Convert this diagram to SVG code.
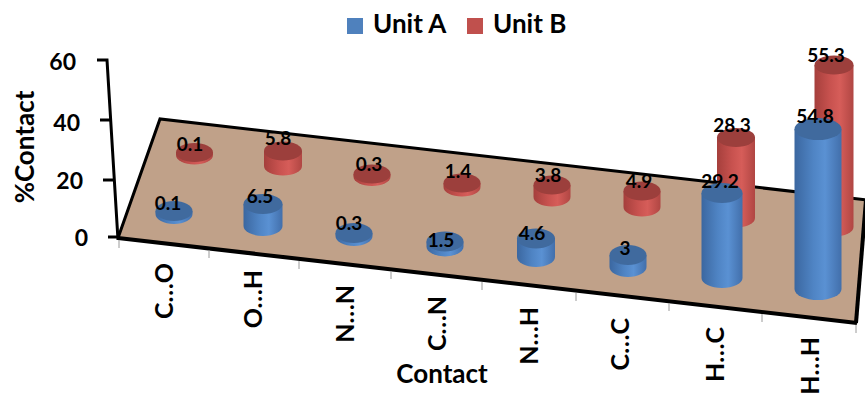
<svg xmlns="http://www.w3.org/2000/svg" width="865" height="394" viewBox="0 0 865 394">
<defs>
<linearGradient id="gb" x1="0" y1="0" x2="1" y2="0">
<stop offset="0" stop-color="#3b67a0"/>
<stop offset="0.4" stop-color="#4f84c4"/>
<stop offset="0.65" stop-color="#5a91d3"/>
<stop offset="1" stop-color="#426fab"/>
</linearGradient>
<linearGradient id="gr" x1="0" y1="0" x2="1" y2="0">
<stop offset="0" stop-color="#a53f3c"/>
<stop offset="0.4" stop-color="#c8524f"/>
<stop offset="0.65" stop-color="#d65d59"/>
<stop offset="1" stop-color="#b04643"/>
</linearGradient>
</defs>
<style>
text{font-family:Lato,"Liberation Sans",sans-serif;font-weight:bold;fill:#000}
.bb{fill:url(#gb)} .bt{fill:#406a9e}
.rb{fill:url(#gr)} .rt{fill:#9c3f3c}
.dl{font-size:19px;text-anchor:middle}
.cat{font-size:25px;text-anchor:end}
.tk{font-size:23px;text-anchor:end}
.ax{stroke:#000;stroke-width:3;fill:none}
.gt{stroke:#9a9a9a;stroke-width:1}
</style>
<rect width="865" height="394" fill="#fff"/>
<g id="floor">
<polygon points="118,238 160,119 868,200 856,323" fill="#c0a189"/>
<polyline points="118,238 160,119 868,200" class="ax"/>
<line x1="118" y1="238" x2="857" y2="323" stroke="#000" stroke-width="4"/>
<line x1="856" y1="323" x2="866" y2="200" stroke="#000" stroke-width="4"/>
<g class="gt">
<line x1="119" y1="240" x2="119" y2="248"/>
<line x1="209" y1="250" x2="209" y2="258"/>
<line x1="299" y1="261" x2="299" y2="269"/>
<line x1="391" y1="271" x2="391" y2="279"/>
<line x1="482" y1="282" x2="482" y2="290"/>
<line x1="576" y1="293" x2="576" y2="301"/>
<line x1="669" y1="303" x2="669" y2="311"/>
<line x1="762" y1="314" x2="762" y2="322"/>
<line x1="856" y1="325" x2="856" y2="333"/>
</g>
</g>
<g id="y-axis">
<polyline points="97,60 107,60 118,240" class="ax"/>
<line x1="100" y1="120" x2="111" y2="120" class="ax"/>
<line x1="103" y1="180" x2="114" y2="180" class="ax"/>
<line x1="108" y1="237" x2="118" y2="237" class="ax"/>
<text class="tk" x="76" y="70">60</text>
<text class="tk" x="80" y="131">40</text>
<text class="tk" x="83" y="189">20</text>
<text class="tk" x="88" y="246">0</text>
<text font-size="26" text-anchor="middle" transform="translate(34,147) rotate(-90)">%Contact</text>
</g>
<g id="legend">
<rect x="347" y="18" width="16" height="16" fill="#4f81bd"/>
<text x="373" y="33" font-size="26">Unit A</text>
<rect x="467" y="18" width="16" height="16" fill="#c0504d"/>
<text x="493" y="33" font-size="26">Unit B</text>
</g>
<g id="unitB">
<g id="b-CO"><path class="rb" d="M176,152.5 V155 A18.5,9.5 0 0 0 213,155 V152.5 Z"/><ellipse class="rt" cx="194.5" cy="152.5" rx="18.5" ry="9.5"/></g>
<g id="b-OH"><path class="rb" d="M264,151 V166 A19,9.5 0 0 0 302,166 V151 Z"/><ellipse class="rt" cx="283" cy="151" rx="19" ry="9.5"/></g>
<g id="b-NN"><path class="rb" d="M353.5,174 V176.5 A18.5,9.5 0 0 0 390.5,176.5 V174 Z"/><ellipse class="rt" cx="372" cy="174" rx="18.5" ry="9.5"/></g>
<g id="b-CN"><path class="rb" d="M443.5,183 V187 A18.5,9.5 0 0 0 480.5,187 V183 Z"/><ellipse class="rt" cx="462" cy="183" rx="18.5" ry="9.5"/></g>
<g id="b-NH"><path class="rb" d="M533.5,185 V197 A18.5,9.5 0 0 0 570.5,197 V185 Z"/><ellipse class="rt" cx="552" cy="185" rx="18.5" ry="9.5"/></g>
<g id="b-CC"><path class="rb" d="M623.5,191 V207 A18.5,9.5 0 0 0 660.5,207 V191 Z"/><ellipse class="rt" cx="642" cy="191" rx="18.5" ry="9.5"/></g>
<g id="b-HC"><path class="rb" d="M717,137.5 V218 A19,9.5 0 0 0 755,218 V137.5 Z"/><ellipse class="rt" cx="736" cy="137.5" rx="19" ry="9.5"/></g>
<g id="b-HH"><path class="rb" d="M814.5,65 V227 A19.5,9.5 0 0 0 853.5,227 V65 Z"/><ellipse class="rt" cx="834" cy="65" rx="19.5" ry="9.5"/></g>
</g>
<g id="unitA">
<g id="a-CO"><path class="bb" d="M155.5,211 V214 A18.5,10 0 0 0 192.5,214 V211 Z"/><ellipse class="bt" cx="174" cy="211" rx="18.5" ry="10"/></g>
<g id="a-OH"><path class="bb" d="M243.5,204 V226 A19.5,10 0 0 0 282.5,226 V204 Z"/><ellipse class="bt" cx="263" cy="204" rx="19.5" ry="10"/></g>
<g id="a-NN"><path class="bb" d="M335.5,233 V236 A18.5,10 0 0 0 372.5,236 V233 Z"/><ellipse class="bt" cx="354" cy="233" rx="18.5" ry="10"/></g>
<g id="a-CN"><path class="bb" d="M426.5,241.5 V246.5 A18.5,10 0 0 0 463.5,246.5 V241.5 Z"/><ellipse class="bt" cx="445" cy="241.5" rx="18.5" ry="10"/></g>
<g id="a-NH"><path class="bb" d="M517,238.5 V257 A19,10 0 0 0 555,257 V238.5 Z"/><ellipse class="bt" cx="536" cy="238.5" rx="19" ry="10"/></g>
<g id="a-CC"><path class="bb" d="M609.5,255 V267 A18.5,10 0 0 0 646.5,267 V255 Z"/><ellipse class="bt" cx="628" cy="255" rx="18.5" ry="10"/></g>
<g id="a-HC"><path class="bb" d="M701.5,193 V278 A20.5,10 0 0 0 742.5,278 V193 Z"/><ellipse class="bt" cx="722" cy="193" rx="20.5" ry="10"/></g>
<g id="a-HH"><path class="bb" d="M794.5,129 V289 A23.5,11 0 0 0 841.5,289 V129 Z"/><ellipse class="bt" cx="818" cy="129" rx="23.5" ry="11"/></g>
</g>
<g id="labels">
<text class="dl" x="190" y="151">0.1</text>
<text class="dl" x="278" y="145">5.8</text>
<text class="dl" x="369" y="171">0.3</text>
<text class="dl" x="458" y="178">1.4</text>
<text class="dl" x="548" y="182">3.8</text>
<text class="dl" x="639" y="188">4.9</text>
<text class="dl" x="732" y="132">28.3</text>
<text class="dl" x="826" y="62">55.3</text>
<text class="dl" x="168" y="210">0.1</text>
<text class="dl" x="260" y="203">6.5</text>
<text class="dl" x="349" y="230">0.3</text>
<text class="dl" x="441" y="247">1.5</text>
<text class="dl" x="532" y="240">4.6</text>
<text class="dl" x="625" y="255">3</text>
<text class="dl" x="720" y="188">29.2</text>
<text class="dl" x="815" y="123">54.8</text>
</g>
<g id="x-axis">
<text class="cat" transform="translate(173,263) rotate(-90)">C…O</text>
<text class="cat" transform="translate(262,270) rotate(-90)">O…H</text>
<text class="cat" transform="translate(354,285) rotate(-90)">N…N</text>
<text class="cat" transform="translate(446,296) rotate(-90)">C…N</text>
<text class="cat" transform="translate(538,307) rotate(-90)">N…H</text>
<text class="cat" transform="translate(629,318) rotate(-90)">C…C</text>
<text class="cat" transform="translate(724,327) rotate(-90)">H…C</text>
<text class="cat" transform="translate(819,337) rotate(-90)">H…H</text>
<text x="442" y="383" font-size="26" text-anchor="middle">Contact</text>
</g>
</svg>
